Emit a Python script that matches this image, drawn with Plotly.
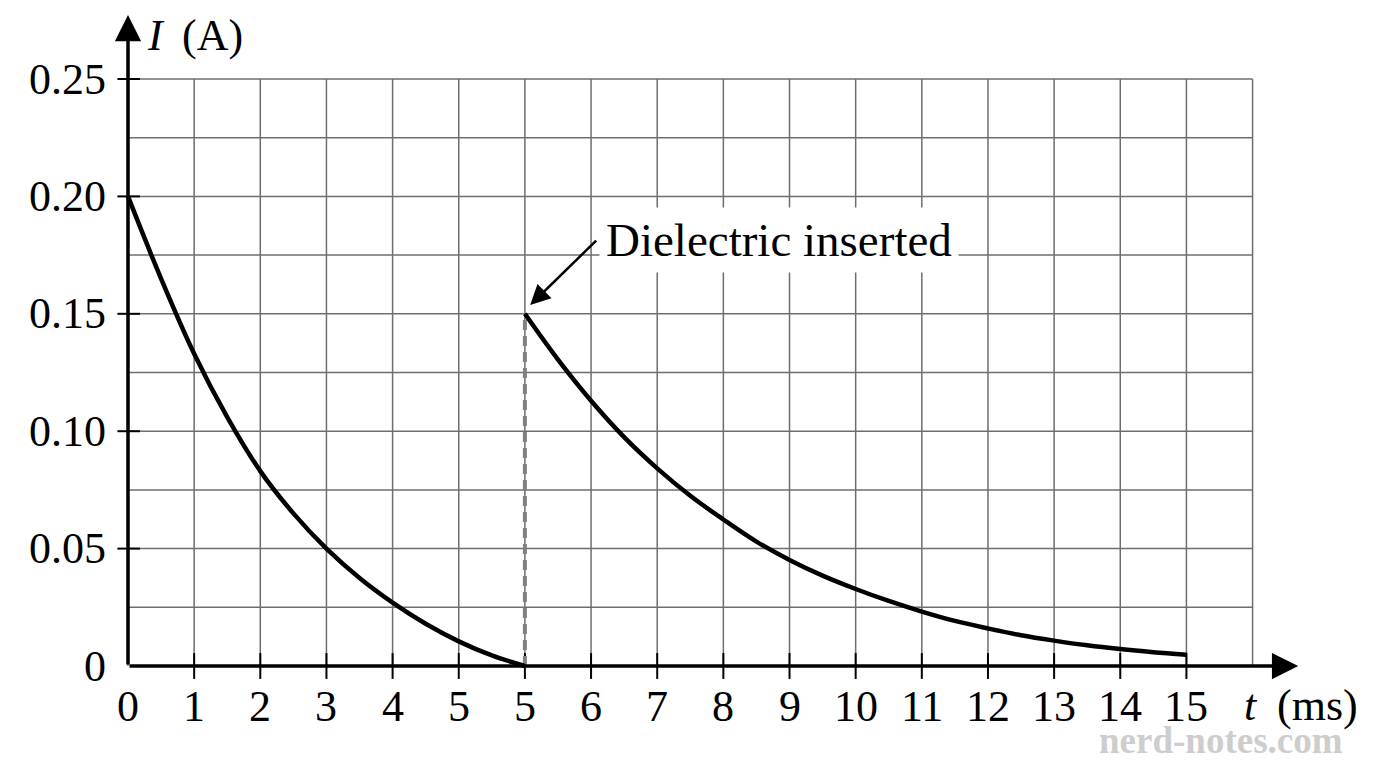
import plotly.graph_objects as go

# grid positions (the original labels position 5 and 6 both as "5")
grid_x = [0, 1, 2, 3, 4, 5, 6, 7, 8, 9, 10, 11, 12, 13, 14, 15, 16, 17]
grid_y = [0, 0.025, 0.05, 0.075, 0.10, 0.125, 0.15, 0.175, 0.20, 0.225, 0.25]

x_tick_pos = [0, 1, 2, 3, 4, 5, 6, 7, 8, 9, 10, 11, 12, 13, 14, 15, 16]
x_tick_text = ["0", "1", "2", "3", "4", "5", "5", "6", "7", "8", "9",
               "10", "11", "12", "13", "14", "15"]
y_tick_vals = [0, 0.05, 0.10, 0.15, 0.20, 0.25]
y_tick_text = ["0", "0.05", "0.10", "0.15", "0.20", "0.25"]

# discharge before the dielectric
pos1 = [0, 0.5, 1, 1.5, 2, 2.5, 3, 3.5, 4, 4.5, 5, 5.5, 6]
cur1 = [0.200, 0.165, 0.133, 0.106, 0.083, 0.065, 0.050, 0.0375, 0.027,
        0.018, 0.0105, 0.0045, 0.000]

# after the dielectric is inserted
pos2 = [6, 6.5, 7, 7.5, 8, 8.5, 9, 9.5, 10, 10.5, 11, 11.5, 12, 12.5, 13,
        13.5, 14, 14.5, 15, 15.5, 16]
cur2 = [0.150, 0.1305, 0.113, 0.0975, 0.0842, 0.0725, 0.0624, 0.053, 0.0452,
        0.0385, 0.0328, 0.0277, 0.0232, 0.0192, 0.0160, 0.0131, 0.0108,
        0.0088, 0.0072, 0.0059, 0.0048]

jump_pos = 6
jump_cur = 0.15

FONT = "Liberation Serif"
GRID = "#6e6e6e"

fig = go.Figure()

# grid
gx, gy = [], []
for x in grid_x:
    gx += [x, x, None]
    gy += [0, grid_y[-1], None]
for y in grid_y[1:]:
    gx += [0, grid_x[-1], None]
    gy += [y, y, None]
fig.add_trace(go.Scatter(x=gx, y=gy, mode="lines",
                         line=dict(color=GRID, width=1.5), hoverinfo="skip"))

# tick marks
tx, ty = [], []
for x in x_tick_pos[1:]:
    tx += [x, x, None]
    ty += [-0.0055, 0.0055, None]
for y in y_tick_vals[1:]:
    tx += [-0.16, 0.18, None]
    ty += [y, y, None]
fig.add_trace(go.Scatter(x=tx, y=ty, mode="lines",
                         line=dict(color="black", width=2), hoverinfo="skip"))

# dashed marker at the jump
fig.add_trace(go.Scatter(x=[jump_pos, jump_pos], y=[0, jump_cur], mode="lines",
                         line=dict(color="#808080", width=4, dash="10px,6px")))

fig.add_trace(go.Scatter(x=pos1, y=cur1, mode="lines",
                         line=dict(color="black", width=4.5, shape="spline")))
fig.add_trace(go.Scatter(x=pos2, y=cur2, mode="lines",
                         line=dict(color="black", width=4.5, shape="spline")))

annotations = []

# axes with arrowheads
annotations.append(dict(x=17.69, y=0, ax=0, ay=0, xref="x", yref="y",
                        axref="x", ayref="y", text="", showarrow=True,
                        arrowhead=2, arrowsize=1.5, arrowwidth=3.5,
                        arrowcolor="black", standoff=0))
annotations.append(dict(x=0, y=0.2773, ax=0, ay=0, xref="x", yref="y",
                        axref="x", ayref="y", text="", showarrow=True,
                        arrowhead=2, arrowsize=1.5, arrowwidth=3.5,
                        arrowcolor="black", standoff=0))

for v, t in zip(y_tick_vals, y_tick_text):
    annotations.append(dict(x=0, y=v, xref="x", yref="y", text=t,
                            showarrow=False, xanchor="right", yanchor="middle",
                            xshift=-20, font=dict(family=FONT, size=44, color="black")))
for p, t in zip(x_tick_pos, x_tick_text):
    annotations.append(dict(x=p, y=0, xref="x", yref="y", text=t,
                            showarrow=False, xanchor="center", yanchor="middle",
                            yshift=-40, font=dict(family=FONT, size=44, color="black")))

# axis titles
annotations.append(dict(x=0.26, y=0.2687, xref="x", yref="y", text="<i>I</i>",
                        showarrow=False, xanchor="left", yanchor="middle",
                        font=dict(family=FONT, size=44, color="black")))
annotations.append(dict(x=0.78, y=0.2687, xref="x", yref="y", text="(A)",
                        showarrow=False, xanchor="left", yanchor="middle",
                        font=dict(family=FONT, size=44, color="black")))
annotations.append(dict(x=16.84, y=-0.017, xref="x", yref="y", text="<i>t</i>",
                        showarrow=False, xanchor="left", yanchor="middle",
                        font=dict(family=FONT, size=44, color="black")))
annotations.append(dict(x=17.34, y=-0.017, xref="x", yref="y", text="(ms)",
                        showarrow=False, xanchor="left", yanchor="middle",
                        font=dict(family=FONT, size=44, color="black")))

# callout
annotations.append(dict(x=7.12, y=0.1814, xref="x", yref="y",
                        text="Dielectric inserted", showarrow=False,
                        xanchor="left", yanchor="middle", bgcolor="white",
                        borderpad=6,
                        font=dict(family=FONT, size=47, color="black")))
annotations.append(dict(x=6.08, y=0.1537, ax=7.1, ay=0.1818, xref="x", yref="y",
                        axref="x", ayref="y", text="", showarrow=True,
                        arrowhead=2, arrowsize=1.6, arrowwidth=2.5,
                        arrowcolor="black", standoff=0))

# watermark
annotations.append(dict(x=0.892, y=0.026, xref="paper", yref="paper",
                        text="<b>nerd-notes.com</b>", showarrow=False,
                        xanchor="center", yanchor="middle",
                        font=dict(family=FONT, size=37, color="#cdcdcd")))

# page body adds an 8px margin, so the figure is 16px smaller than the window
fig.update_layout(
    width=1360, height=752,
    margin=dict(l=0, r=0, t=0, b=0),
    paper_bgcolor="white", plot_bgcolor="white",
    showlegend=False,
    xaxis=dict(range=[-1.814, 18.745], visible=False, fixedrange=True),
    yaxis=dict(range=[-0.04003, 0.28024], visible=False, fixedrange=True),
    annotations=annotations,
)

fig.write_html("out.html")
